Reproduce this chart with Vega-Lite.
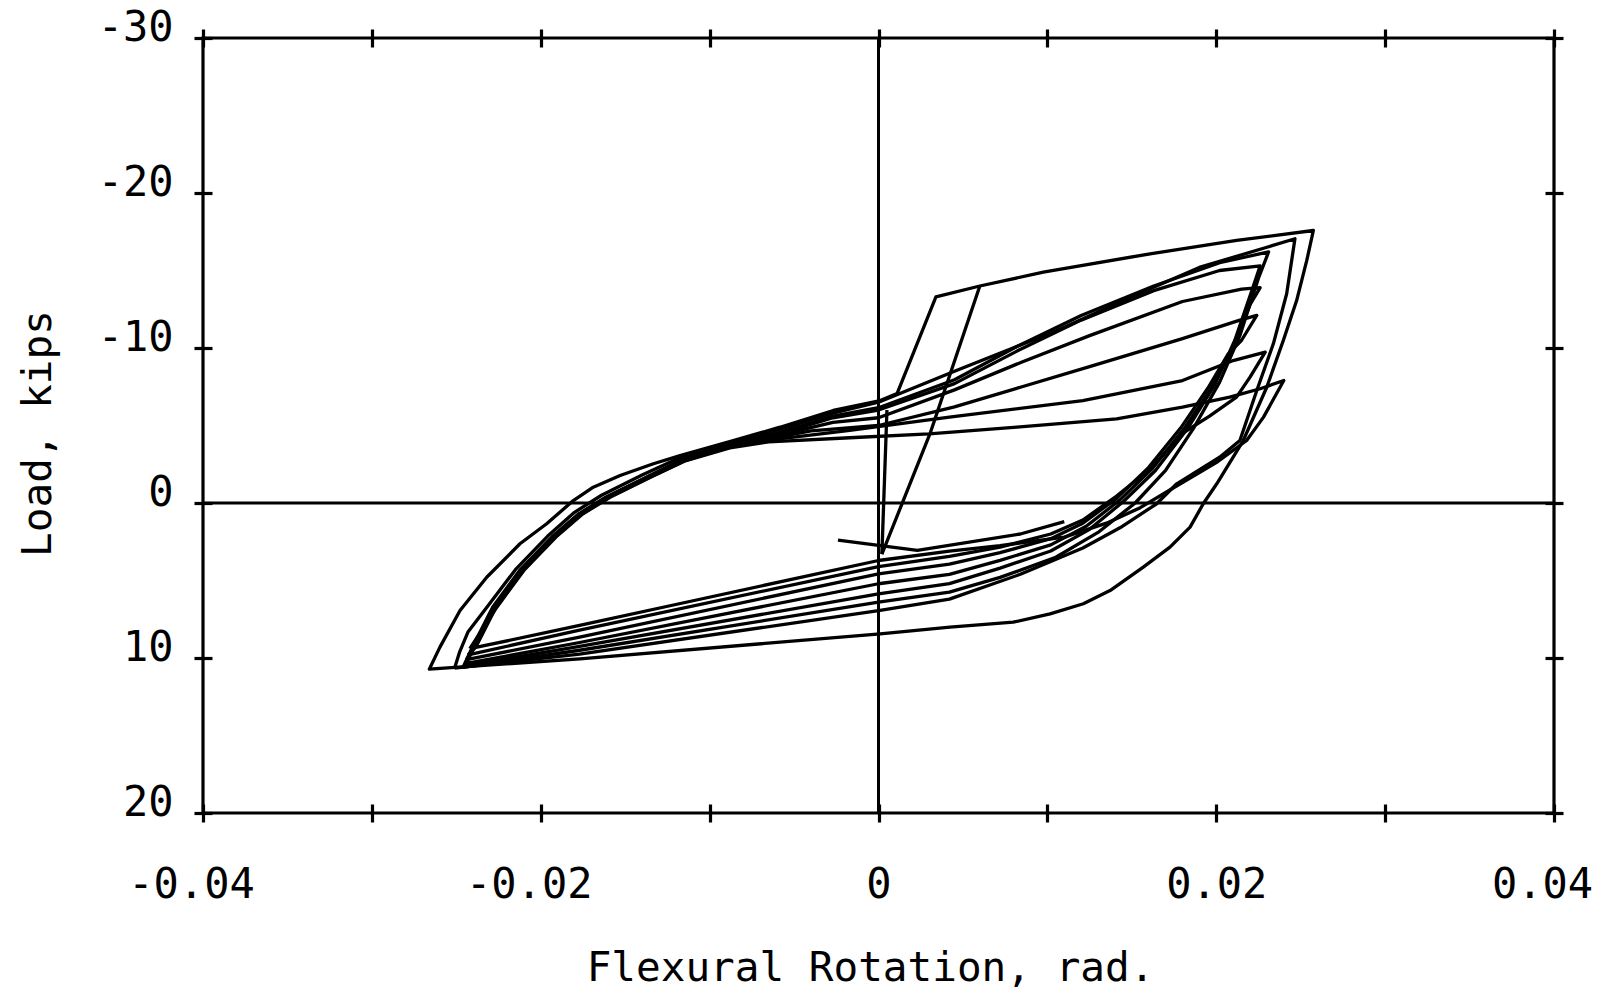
{
"$schema":"https://vega.github.io/schema/vega-lite/v6.json",
"width":1351,"height":775,
"autosize":{"type":"none"},
"padding":{"left":203,"top":38,"right":61,"bottom":177},
"background":"white",
"config":{"view":{"stroke":"black","strokeWidth":3.2},
"axis":{"grid":false,"domain":false,"tickColor":"black","tickWidth":3.2,"labelColor":"black","titleColor":"black","labelFont":"DejaVu Sans Mono","titleFont":"DejaVu Sans Mono","labelFontSize":42,"titleFontSize":41,"titleFontWeight":"normal","labelFlush":false,"labelOverlap":false}},
"datasets":{
"zero":[{"c":"h","o":0,"x":-0.04,"y":0},{"c":"h","o":1,"x":0.04,"y":0},{"c":"v","o":0,"x":0,"y":-30},{"c":"v","o":1,"x":0,"y":20}],
"loops":[
{"c":"C1","o":0,"x":-0.0242,"y":9.4},{"c":"C1","o":1,"x":-0.0226,"y":6.72},{"c":"C1","o":2,"x":-0.021,"y":4.35},{"c":"C1","o":3,"x":-0.0191,"y":2.2},{"c":"C1","o":4,"x":-0.0175,"y":0.7},{"c":"C1","o":5,"x":-0.0159,"y":-0.37},{"c":"C1","o":6,"x":-0.0135,"y":-1.66},{"c":"C1","o":7,"x":-0.0115,"y":-2.7},{"c":"C1","o":8,"x":-0.0088,"y":-3.55},{"c":"C1","o":9,"x":-0.0065,"y":-3.95},{"c":"C1","o":10,"x":-0.0017,"y":-4.21},{"c":"C1","o":11,"x":0.003,"y":-4.46},{"c":"C1","o":12,"x":0.0082,"y":-4.89},{"c":"C1","o":13,"x":0.0141,"y":-5.43},{"c":"C1","o":14,"x":0.018,"y":-6.18},{"c":"C1","o":15,"x":0.0208,"y":-6.83},{"c":"C1","o":16,"x":0.0226,"y":-7.37},{"c":"C1","o":17,"x":0.024,"y":-7.9},{"c":"C1","o":18,"x":0.0228,"y":-5.54},{"c":"C1","o":19,"x":0.0218,"y":-4.03},{"c":"C1","o":20,"x":0.02,"y":-2.6},{"c":"C1","o":21,"x":0.0175,"y":-1.0},{"c":"C1","o":22,"x":0.0155,"y":0.3},{"c":"C1","o":23,"x":0.0135,"y":1.3},{"c":"C1","o":24,"x":0.011,"y":2.2},{"c":"C1","o":25,"x":0.0072,"y":2.75},{"c":"C1","o":26,"x":0.0042,"y":3.1},{"c":"C1","o":27,"x":0,"y":3.71},{"c":"C1","o":28,"x":-0.0118,"y":6.5},{"c":"C1","o":29,"x":-0.0177,"y":7.9},{"c":"C1","o":30,"x":-0.0242,"y":9.4},
{"c":"C2","o":0,"x":-0.0243,"y":9.8},{"c":"C2","o":1,"x":-0.02385,"y":9.3},{"c":"C2","o":2,"x":-0.02265,"y":6.72},{"c":"C2","o":3,"x":-0.02105,"y":4.35},{"c":"C2","o":4,"x":-0.01915,"y":2.2},{"c":"C2","o":5,"x":-0.01755,"y":0.7},{"c":"C2","o":6,"x":-0.01595,"y":-0.37},{"c":"C2","o":7,"x":-0.01355,"y":-1.66},{"c":"C2","o":8,"x":-0.01155,"y":-2.7},{"c":"C2","o":9,"x":-0.0089,"y":-3.6},{"c":"C2","o":10,"x":-0.0065,"y":-4.05},{"c":"C2","o":11,"x":-0.0017,"y":-4.68},{"c":"C2","o":12,"x":0.0042,"y":-5.54},{"c":"C2","o":13,"x":0.0121,"y":-6.61},{"c":"C2","o":14,"x":0.018,"y":-7.9},{"c":"C2","o":15,"x":0.021,"y":-9.19},{"c":"C2","o":16,"x":0.0229,"y":-9.73},{"c":"C2","o":17,"x":0.022,"y":-8.12},{"c":"C2","o":18,"x":0.0212,"y":-6.83},{"c":"C2","o":19,"x":0.0196,"y":-5.6},{"c":"C2","o":20,"x":0.018,"y":-4.5},{"c":"C2","o":21,"x":0.0161,"y":-2.2},{"c":"C2","o":22,"x":0.0141,"y":-0.45},{"c":"C2","o":23,"x":0.0121,"y":1.1},{"c":"C2","o":24,"x":0.0102,"y":2.0},{"c":"C2","o":25,"x":0.0072,"y":2.85},{"c":"C2","o":26,"x":0.0042,"y":3.45},{"c":"C2","o":27,"x":0,"y":4.1},{"c":"C2","o":28,"x":-0.0177,"y":8.2},{"c":"C2","o":29,"x":-0.0243,"y":9.8},
{"c":"C3","o":0,"x":-0.0244,"y":10.1},{"c":"C3","o":1,"x":-0.0239,"y":9.3},{"c":"C3","o":2,"x":-0.0227,"y":6.72},{"c":"C3","o":3,"x":-0.0211,"y":4.35},{"c":"C3","o":4,"x":-0.0192,"y":2.2},{"c":"C3","o":5,"x":-0.0176,"y":0.7},{"c":"C3","o":6,"x":-0.016,"y":-0.37},{"c":"C3","o":7,"x":-0.0136,"y":-1.66},{"c":"C3","o":8,"x":-0.0116,"y":-2.7},{"c":"C3","o":9,"x":-0.0089,"y":-3.65},{"c":"C3","o":10,"x":-0.0062,"y":-4.2},{"c":"C3","o":11,"x":-0.004,"y":-4.65},{"c":"C3","o":12,"x":0,"y":-5.0},{"c":"C3","o":13,"x":0.0045,"y":-6.2},{"c":"C3","o":14,"x":0.0085,"y":-7.5},{"c":"C3","o":15,"x":0.0125,"y":-8.8},{"c":"C3","o":16,"x":0.018,"y":-10.6},{"c":"C3","o":17,"x":0.0214,"y":-11.8},{"c":"C3","o":18,"x":0.0224,"y":-12.1},{"c":"C3","o":19,"x":0.0215,"y":-10.5},{"c":"C3","o":20,"x":0.0207,"y":-9.6},{"c":"C3","o":21,"x":0.0195,"y":-7.4},{"c":"C3","o":22,"x":0.0179,"y":-4.85},{"c":"C3","o":23,"x":0.016,"y":-2.3},{"c":"C3","o":24,"x":0.0141,"y":-0.3},{"c":"C3","o":25,"x":0.0121,"y":1.3},{"c":"C3","o":26,"x":0.0102,"y":2.3},{"c":"C3","o":27,"x":0.0072,"y":3.2},{"c":"C3","o":28,"x":0.0042,"y":3.95},{"c":"C3","o":29,"x":0,"y":4.57},{"c":"C3","o":30,"x":-0.0177,"y":8.66},{"c":"C3","o":31,"x":-0.0244,"y":10.1},
{"c":"C4","o":0,"x":-0.0244,"y":10.35},{"c":"C4","o":1,"x":-0.02395,"y":9.3},{"c":"C4","o":2,"x":-0.02275,"y":6.72},{"c":"C4","o":3,"x":-0.02115,"y":4.35},{"c":"C4","o":4,"x":-0.01925,"y":2.2},{"c":"C4","o":5,"x":-0.01765,"y":0.7},{"c":"C4","o":6,"x":-0.01605,"y":-0.37},{"c":"C4","o":7,"x":-0.01365,"y":-1.66},{"c":"C4","o":8,"x":-0.01165,"y":-2.7},{"c":"C4","o":9,"x":-0.009,"y":-3.6},{"c":"C4","o":10,"x":-0.0062,"y":-4.3},{"c":"C4","o":11,"x":-0.0027,"y":-5.2},{"c":"C4","o":12,"x":0,"y":-5.5},{"c":"C4","o":13,"x":0.0045,"y":-7.3},{"c":"C4","o":14,"x":0.0085,"y":-9.1},{"c":"C4","o":15,"x":0.0125,"y":-10.8},{"c":"C4","o":16,"x":0.018,"y":-13.0},{"c":"C4","o":17,"x":0.0215,"y":-13.8},{"c":"C4","o":18,"x":0.0226,"y":-13.9},{"c":"C4","o":19,"x":0.022,"y":-12.8},{"c":"C4","o":20,"x":0.0209,"y":-9.8},{"c":"C4","o":21,"x":0.0197,"y":-7.4},{"c":"C4","o":22,"x":0.0181,"y":-4.8},{"c":"C4","o":23,"x":0.0162,"y":-2.2},{"c":"C4","o":24,"x":0.0143,"y":-0.2},{"c":"C4","o":25,"x":0.0123,"y":1.5},{"c":"C4","o":26,"x":0.0102,"y":2.7},{"c":"C4","o":27,"x":0.0072,"y":3.7},{"c":"C4","o":28,"x":0.0042,"y":4.6},{"c":"C4","o":29,"x":0,"y":5.21},{"c":"C4","o":30,"x":-0.0177,"y":9.0},{"c":"C4","o":31,"x":-0.0244,"y":10.35},
{"c":"C5","o":0,"x":-0.0245,"y":10.5},{"c":"C5","o":1,"x":-0.024,"y":9.3},{"c":"C5","o":2,"x":-0.0228,"y":6.72},{"c":"C5","o":3,"x":-0.0212,"y":4.35},{"c":"C5","o":4,"x":-0.0193,"y":2.2},{"c":"C5","o":5,"x":-0.0177,"y":0.7},{"c":"C5","o":6,"x":-0.0161,"y":-0.37},{"c":"C5","o":7,"x":-0.0137,"y":-1.66},{"c":"C5","o":8,"x":-0.0117,"y":-2.7},{"c":"C5","o":9,"x":-0.009,"y":-3.65},{"c":"C5","o":10,"x":-0.0062,"y":-4.35},{"c":"C5","o":11,"x":-0.0027,"y":-5.5},{"c":"C5","o":12,"x":0,"y":-6.0},{"c":"C5","o":13,"x":0.0045,"y":-7.7},{"c":"C5","o":14,"x":0.0082,"y":-9.8},{"c":"C5","o":15,"x":0.012,"y":-11.8},{"c":"C5","o":16,"x":0.0163,"y":-13.7},{"c":"C5","o":17,"x":0.0202,"y":-15.0},{"c":"C5","o":18,"x":0.0226,"y":-15.3},{"c":"C5","o":19,"x":0.0222,"y":-14.0},{"c":"C5","o":20,"x":0.0211,"y":-10.5},{"c":"C5","o":21,"x":0.0199,"y":-7.6},{"c":"C5","o":22,"x":0.0183,"y":-4.8},{"c":"C5","o":23,"x":0.0164,"y":-2.1},{"c":"C5","o":24,"x":0.0145,"y":-0.1},{"c":"C5","o":25,"x":0.0125,"y":1.7},{"c":"C5","o":26,"x":0.0102,"y":3.1},{"c":"C5","o":27,"x":0.0072,"y":4.2},{"c":"C5","o":28,"x":0.0042,"y":5.2},{"c":"C5","o":29,"x":0,"y":5.86},{"c":"C5","o":30,"x":-0.0177,"y":9.25},{"c":"C5","o":31,"x":-0.0245,"y":10.5},
{"c":"C6","o":0,"x":-0.0246,"y":10.6},{"c":"C6","o":1,"x":-0.02405,"y":9.3},{"c":"C6","o":2,"x":-0.02285,"y":6.72},{"c":"C6","o":3,"x":-0.02125,"y":4.35},{"c":"C6","o":4,"x":-0.01935,"y":2.2},{"c":"C6","o":5,"x":-0.01775,"y":0.7},{"c":"C6","o":6,"x":-0.01615,"y":-0.37},{"c":"C6","o":7,"x":-0.01375,"y":-1.66},{"c":"C6","o":8,"x":-0.01175,"y":-2.75},{"c":"C6","o":9,"x":-0.0091,"y":-3.7},{"c":"C6","o":10,"x":-0.0062,"y":-4.45},{"c":"C6","o":11,"x":-0.0027,"y":-5.6},{"c":"C6","o":12,"x":0,"y":-6.15},{"c":"C6","o":13,"x":0.0045,"y":-7.95},{"c":"C6","o":14,"x":0.0082,"y":-10.1},{"c":"C6","o":15,"x":0.012,"y":-12.1},{"c":"C6","o":16,"x":0.0163,"y":-14.0},{"c":"C6","o":17,"x":0.0202,"y":-15.5},{"c":"C6","o":18,"x":0.0231,"y":-16.2},{"c":"C6","o":19,"x":0.0225,"y":-14.5},{"c":"C6","o":20,"x":0.0214,"y":-10.8},{"c":"C6","o":21,"x":0.0202,"y":-7.8},{"c":"C6","o":22,"x":0.0187,"y":-4.9},{"c":"C6","o":23,"x":0.017,"y":-2.1},{"c":"C6","o":24,"x":0.0152,"y":0},{"c":"C6","o":25,"x":0.013,"y":1.9},{"c":"C6","o":26,"x":0.0105,"y":3.5},{"c":"C6","o":27,"x":0.0072,"y":4.8},{"c":"C6","o":28,"x":0.0042,"y":5.75},{"c":"C6","o":29,"x":0,"y":6.4},{"c":"C6","o":30,"x":-0.0177,"y":9.5},{"c":"C6","o":31,"x":-0.0246,"y":10.6},
{"c":"C7","o":0,"x":-0.0251,"y":10.65},{"c":"C7","o":1,"x":-0.0248,"y":9.6},{"c":"C7","o":2,"x":-0.0243,"y":8.3},{"c":"C7","o":3,"x":-0.0231,"y":6.6},{"c":"C7","o":4,"x":-0.0215,"y":4.3},{"c":"C7","o":5,"x":-0.0196,"y":2.15},{"c":"C7","o":6,"x":-0.018,"y":0.6},{"c":"C7","o":7,"x":-0.0164,"y":-0.5},{"c":"C7","o":8,"x":-0.014,"y":-1.8},{"c":"C7","o":9,"x":-0.0119,"y":-2.85},{"c":"C7","o":10,"x":-0.0092,"y":-3.8},{"c":"C7","o":11,"x":-0.0063,"y":-4.6},{"c":"C7","o":12,"x":-0.0027,"y":-5.8},{"c":"C7","o":13,"x":0,"y":-6.5},{"c":"C7","o":14,"x":0.0045,"y":-8.5},{"c":"C7","o":15,"x":0.0105,"y":-11.1},{"c":"C7","o":16,"x":0.015,"y":-13.3},{"c":"C7","o":17,"x":0.019,"y":-15.2},{"c":"C7","o":18,"x":0.023,"y":-16.5},{"c":"C7","o":19,"x":0.02466,"y":-17.05},{"c":"C7","o":20,"x":0.02417,"y":-13.5},{"c":"C7","o":21,"x":0.02338,"y":-10.27},{"c":"C7","o":22,"x":0.0224,"y":-7.26},{"c":"C7","o":23,"x":0.0214,"y":-4.03},{"c":"C7","o":24,"x":0.0202,"y":-2.95},{"c":"C7","o":25,"x":0.01766,"y":-1.24},{"c":"C7","o":26,"x":0.01647,"y":0.05},{"c":"C7","o":27,"x":0.0143,"y":1.6},{"c":"C7","o":28,"x":0.0121,"y":2.9},{"c":"C7","o":29,"x":0.0084,"y":4.6},{"c":"C7","o":30,"x":0.0042,"y":6.2},{"c":"C7","o":31,"x":0,"y":6.94},{"c":"C7","o":32,"x":-0.0177,"y":9.75},{"c":"C7","o":33,"x":-0.0251,"y":10.65},
{"c":"C8","o":0,"x":0.0001,"y":-6.61},{"c":"C8","o":1,"x":0.0011,"y":-7.06},{"c":"C8","o":2,"x":0.0034,"y":-13.3},{"c":"C8","o":3,"x":0.006,"y":-14.0},{"c":"C8","o":4,"x":0.00976,"y":-14.89},{"c":"C8","o":5,"x":0.01608,"y":-16.08},{"c":"C8","o":6,"x":0.02121,"y":-16.94},{"c":"C8","o":7,"x":0.02575,"y":-17.58},{"c":"C8","o":8,"x":0.02536,"y":-15.65},{"c":"C8","o":9,"x":0.02476,"y":-13.06},{"c":"C8","o":10,"x":0.02397,"y":-10.48},{"c":"C8","o":11,"x":0.02299,"y":-7.47},{"c":"C8","o":12,"x":0.0216,"y":-4.03},{"c":"C8","o":13,"x":0.02003,"y":-1.24},{"c":"C8","o":14,"x":0.01923,"y":0.05},{"c":"C8","o":15,"x":0.01845,"y":1.56},{"c":"C8","o":16,"x":0.01726,"y":2.85},{"c":"C8","o":17,"x":0.01568,"y":4.14},{"c":"C8","o":18,"x":0.01371,"y":5.65},{"c":"C8","o":19,"x":0.01213,"y":6.5},{"c":"C8","o":20,"x":0.01016,"y":7.15},{"c":"C8","o":21,"x":0.00798,"y":7.69},{"c":"C8","o":22,"x":0.00423,"y":8.01},{"c":"C8","o":23,"x":0.0001,"y":8.44},{"c":"C8","o":24,"x":-0.01768,"y":10.05},{"c":"C8","o":25,"x":-0.0266,"y":10.72},{"c":"C8","o":26,"x":-0.02597,"y":9.3},{"c":"C8","o":27,"x":-0.02478,"y":6.94},{"c":"C8","o":28,"x":-0.0232,"y":4.79},{"c":"C8","o":29,"x":-0.02123,"y":2.63},{"c":"C8","o":30,"x":-0.01965,"y":1.34},{"c":"C8","o":31,"x":-0.01807,"y":-0.16},{"c":"C8","o":32,"x":-0.01689,"y":-1.02},{"c":"C8","o":33,"x":-0.0153,"y":-1.77},{"c":"C8","o":34,"x":-0.01333,"y":-2.53},{"c":"C8","o":35,"x":-0.01175,"y":-3.06},{"c":"C8","o":36,"x":-0.0086,"y":-4.03},{"c":"C8","o":37,"x":-0.00583,"y":-4.89},{"c":"C8","o":38,"x":-0.00268,"y":-5.97},{"c":"C8","o":39,"x":0.0001,"y":-6.61},
{"c":"E1","o":0,"x":0.006,"y":-14.0},{"c":"E1","o":1,"x":0.00305,"y":-4.47},{"c":"E1","o":2,"x":0.0002,"y":3.3},
{"c":"E2","o":0,"x":0.0002,"y":3.3},{"c":"E2","o":1,"x":0.0005,"y":-6.0},
{"c":"E3","o":0,"x":-0.0024,"y":2.4},{"c":"E3","o":1,"x":0.0023,"y":3.06},{"c":"E3","o":2,"x":0.0084,"y":2.0},{"c":"E3","o":3,"x":0.011,"y":1.2}
]},
"layer":[
{"data":{"name":"zero"},"mark":{"type":"line","color":"black","strokeWidth":3},
"encoding":{
"x":{"field":"x","type":"quantitative","scale":{"domain":[-0.04,0.04],"nice":false,"zero":false},
"axis":{"orient":"top","offset":-9,"tickSize":18,"labels":false,"title":null,"values":[-0.04,-0.03,-0.02,-0.01,0,0.01,0.02,0.03,0.04]}},
"y":{"field":"y","type":"quantitative","scale":{"domain":[-30,20],"nice":false,"zero":false,"reverse":true},
"axis":{"orient":"right","offset":-9,"tickSize":18,"labels":false,"title":null,"values":[-30,-20,-10,0,10,20]}},
"detail":{"field":"c"},"order":{"field":"o"}}},
{"data":{"name":"loops"},"mark":{"type":"line","color":"black","strokeWidth":3.3,"strokeJoin":"round"},
"encoding":{
"x":{"field":"x","type":"quantitative",
"axis":{"orient":"bottom","offset":-9,"tickSize":18,"labelPadding":42,"values":[-0.04,-0.03,-0.02,-0.01,0,0.01,0.02,0.03,0.04],
"labelOffset":{"condition":{"test":"datum.value < -0.001 || datum.value > 0.03","value":-12},"value":0},
"labelExpr":"round(datum.value*100) % 2 == 0 ? (datum.value == 0 ? '0' : (datum.value < 0 ? '-' : '') + format(abs(datum.value), '.2f')) : ''",
"title":"Flexural Rotation, rad.","titleX":667,"titleY":176,"titleAlign":"center","titleBaseline":"alphabetic"}},
"y":{"field":"y","type":"quantitative",
"axis":{"orient":"left","offset":-9,"tickSize":18,"labelPadding":21,"labelOffset":-11,"labelBaseline":"middle","values":[-30,-20,-10,0,10,20],
"labelExpr":"(datum.value < 0 ? '-' : '') + format(abs(datum.value), 'd')",
"title":"Load, kips","titleX":-162,"titleY":395,"titleAlign":"center","titleBaseline":"alphabetic","titleAngle":-90}},
"detail":{"field":"c"},"order":{"field":"o"}}}
],
"resolve":{"axis":{"x":"independent","y":"independent"}}
}
